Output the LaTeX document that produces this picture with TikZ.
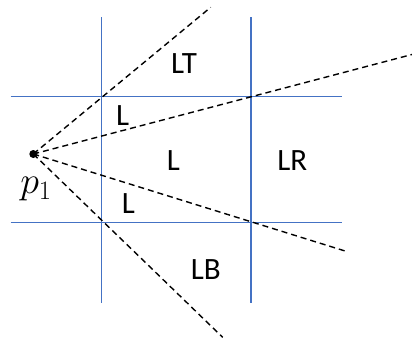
\documentclass[tikz,border=0pt]{standalone}
\usepackage{fix-cm}
\usepackage{fontspec}
\setmainfont{Carlito}
\definecolor{gridblue}{RGB}{68,114,196}
\tikzset{
  gridline/.style={draw=gridblue, line width=1.5pt},
  ray/.style={draw=black, line width=1.4pt, dash pattern=on 6pt off 4pt},
  region/.style={font=\fontsize{31}{36}\selectfont, inner sep=0pt},
}
\begin{document}
\begin{tikzpicture}[x=1pt, y=-1pt]
\useasboundingbox (0,0) rectangle (412,340);
% grid
\coordinate (vlt) at (101.7,17);
\coordinate (vlb) at (101.7,303);
\coordinate (vrt) at (251,17);
\coordinate (vrb) at (251,303);
\coordinate (htl) at (10.7,96.7);
\coordinate (htr) at (342,96.7);
\coordinate (hbl) at (10.7,222.7);
\coordinate (hbr) at (342,222.7);
\draw[gridline] (vlt) -- (vlb);
\draw[gridline] (vrt) -- (vrb);
\draw[gridline] (htl) -- (htr);
\draw[gridline] (hbl) -- (hbr);
% point and rays
\node[circle, fill=black, inner sep=0pt, minimum size=8pt] (p1) at (33.3,154) {};
\node[font=\fontsize{38}{44}\selectfont, inner sep=0pt] (p1label) at (36,189) {$p_1$};
\coordinate (ray1) at (210.7,7.3);
\coordinate (ray2) at (412,54.5);
\coordinate (ray3) at (348.3,252);
\coordinate (ray4) at (222.7,337.3);
\draw[ray] (p1.center) -- (ray1);
\draw[ray] (p1.center) -- (ray2);
\draw[ray] (p1.center) -- (ray3);
\draw[ray] (p1.center) -- (ray4);
% regions
\node[region] (lt) at (184,64) {LT};
\node[region] (lup) at (122.7,116) {L};
\node[region] (lmid) at (173.3,160.7) {L};
\node[region] (lr) at (292.3,161) {LR};
\node[region] (llow) at (128.3,204) {L};
\node[region] (lb) at (205.7,269.3) {LB};
\end{tikzpicture}
\end{document}
